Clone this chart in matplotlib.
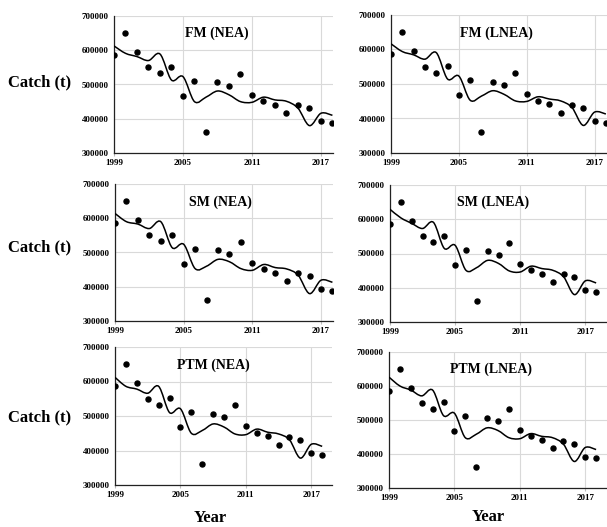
import matplotlib
matplotlib.use("Agg")
import matplotlib.pyplot as plt
from matplotlib.path import Path
from matplotlib.patches import PathPatch
import numpy as np

years = list(range(1999, 2019))
observed = [586000, 649500, 595000, 550500, 533000, 552500, 467000, 511000, 361000, 506000,
            496000, 531000, 470000, 452000, 441000, 416500, 439000, 430000, 392000, 387000]

titles = ["FM (NEA)", "FM (LNEA)", "SM (NEA)", "SM (LNEA)", "PTM (NEA)", "PTM (LNEA)"]

fit_fm_nea = [612600, 591000, 581500, 570000, 589000, 513000, 523000, 450000, 463000, 481000,
              470000, 450000, 448000, 463000, 455000, 451000, 431000, 380000, 416000, 410000]
fit_fm_lnea = [616500, 594000, 584500, 572000, 591000, 514500, 523000, 453000, 465000, 480500,
               470000, 451000, 449500, 463000, 456500, 451000, 432000, 380000, 418500, 413000]
fit_sm_nea = [614000, 590000, 583000, 570000, 590000, 514000, 524000, 453000, 460000, 480000,
              473000, 453000, 448000, 465000, 456000, 452000, 434000, 380000, 419000, 413000]
fit_sm_lnea = [629000, 604000, 588000, 573000, 591000, 515000, 524000, 451000, 459000, 480000,
               471000, 449000, 446000, 463000, 456000, 451000, 432000, 380000, 420000, 414000]
fit_ptm_nea = [612000, 586000, 578000, 566000, 586000, 510000, 521000, 450000, 458000, 477000,
               468000, 448000, 446000, 462000, 453000, 448000, 431000, 378000, 418000, 412000]
fit_ptm_lnea = [626000, 600000, 588000, 571000, 588000, 513000, 520000, 448000, 458000, 477000,
                469000, 448000, 445000, 460000, 452000, 448000, 429000, 378000, 419000, 413000]

fits = [fit_fm_nea, fit_fm_lnea, fit_sm_nea, fit_sm_lnea, fit_ptm_nea, fit_ptm_lnea]

W, H = 607, 527
# (left px, right px, top px, bottom px, xmax, title x frac, title y frac)
panels = [
    (114, 333, 16, 153, 2018.05, 0.470, 0.875),
    (391, 607, 15, 153, 2018.1, 0.486, 0.870),
    (115, 333, 184, 321, 2018.05, 0.482, 0.870),
    (390, 607, 185, 322, 2019.0, 0.475, 0.876),
    (115, 332, 347, 485, 2018.9, 0.452, 0.870),
    (389, 607, 352, 488, 2019.0, 0.468, 0.875),
]

serif = "Liberation Serif"


def smooth_path(x, y):
    # Catmull-Rom style bezier through the yearly points (like a smoothed line)
    x = np.asarray(x, float)
    y = np.asarray(y, float)
    n = len(x)
    verts = [(x[0], y[0])]
    codes = [Path.MOVETO]
    for i in range(n - 1):
        p0 = np.array([x[max(i - 1, 0)], y[max(i - 1, 0)]])
        p1 = np.array([x[i], y[i]])
        p2 = np.array([x[i + 1], y[i + 1]])
        p3 = np.array([x[min(i + 2, n - 1)], y[min(i + 2, n - 1)]])
        c1 = p1 + (p2 - p0) / 6.0
        c2 = p2 - (p3 - p1) / 6.0
        verts += [tuple(c1), tuple(c2), tuple(p2)]
        codes += [Path.CURVE4] * 3
    return Path(verts, codes)


fig = plt.figure(figsize=(W / 100, H / 100), dpi=100)

for (l, r, t, b, xmax, tx, ty), title, fit in zip(panels, titles, fits):
    ax = fig.add_axes([l / W, 1 - b / H, (r - l) / W, (b - t) / H])
    ax.set_xlim(1999, xmax)
    ax.set_ylim(300000, 700000)
    ax.set_xticks([1999, 2005, 2011, 2017])
    ax.set_yticks([300000, 400000, 500000, 600000, 700000])
    ax.grid(True, color="#d9d9d9", linewidth=0.8)
    ax.set_axisbelow(True)
    for s in ("top", "right"):
        ax.spines[s].set_visible(False)
    for s in ("left", "bottom"):
        ax.spines[s].set_linewidth(0.9)
        ax.spines[s].set_color("#222222")
    ax.tick_params(axis="y", length=0, pad=4)
    ax.tick_params(axis="x", length=2.5, width=0.8, color="#bbbbbb", pad=2)
    for lab in ax.get_yticklabels() + ax.get_xticklabels():
        lab.set_fontfamily(serif)
        lab.set_fontweight("bold")
        lab.set_fontsize(6.5)

    ax.add_patch(PathPatch(smooth_path(years, fit), facecolor="none",
                           edgecolor="black", linewidth=1.1, zorder=3))
    ax.scatter(years, observed, s=13, color="black", zorder=4)
    ax.text(tx, ty, title, transform=ax.transAxes, ha="center", va="center",
            fontfamily=serif, fontweight="bold", fontsize=10)

for ypx in (82, 247, 417):
    fig.text(40 / W, 1 - ypx / H, "Catch (t)", ha="center", va="center",
             fontfamily=serif, fontweight="bold", fontsize=12)
for xpx, ypx in ((210, 518), (488, 517)):
    fig.text(xpx / W, 1 - ypx / H, "Year", ha="center", va="center",
             fontfamily=serif, fontweight="bold", fontsize=12)

fig.savefig("out.png", dpi=100)
